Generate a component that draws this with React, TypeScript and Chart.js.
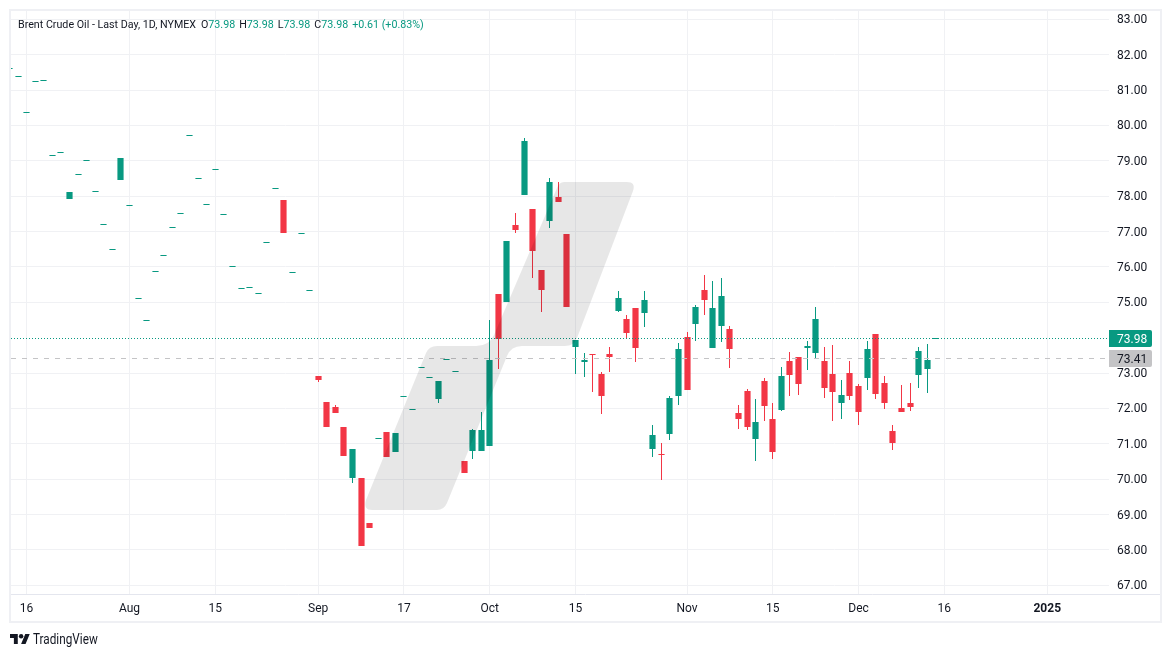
import React, { useEffect, useRef } from "react";
import { Chart, registerables } from "chart.js";

Chart.register(...registerables);

// Daily OHLC, oldest to newest (trading days, mid-July to 13 Dec 2024)
const opens = [
  81.61, 81.39, 80.37, 81.25, 81.28, 79.16, 79.24, 77.92, 78.62, 79.01, 78.14, 77.2, 76.5, 78.46, 77.74, 75.11, 74.49, 75.88, 76.33, 77.12,
  77.52, 79.72, 78.5, 77.77, 78.76, 77.49, 76.02, 75.4, 75.42, 75.25, 76.7, 78.22, 77.89, 75.85, 76.95, 75.34, 72.92, 72.18, 72.04, 71.47,
  70.03, 70.03, 68.76, 71.15, 71.33, 70.76, 72.34, 71.98, 73.16, 72.88, 72.27, 73.39, 73.05, 70.51, 70.8, 70.8, 70.94, 75.24, 75.01, 77.19,
  78.03, 77.64, 75.91, 77.3, 77.98, 76.93, 73.74, 73.31, 73.55, 72.97, 73.54, 74.75, 74.53, 74.84, 74.7, 70.85, 70.71, 71.28, 72.35, 74.02,
  74.39, 75.35, 73.71, 74.33, 74.24, 71.87, 72.49, 71.14, 72.78, 71.7, 71.96, 73.34, 73.46, 73.71, 73.57, 73.34, 72.97, 72.15, 73.0, 72.63,
  72.86, 74.11, 72.72, 71.36, 72.01, 72.15, 72.94, 73.11, 73.98,
];
const highs = [
  81.61, 81.39, 80.37, 81.25, 81.28, 79.16, 79.24, 78.12, 78.62, 79.01, 78.14, 77.2, 76.5, 79.08, 77.74, 75.11, 74.49, 75.88, 76.33, 77.12,
  77.52, 79.72, 78.5, 77.77, 78.76, 77.49, 76.02, 75.4, 75.42, 75.25, 76.7, 78.22, 77.89, 75.85, 76.95, 75.34, 72.92, 72.18, 72.1, 71.47,
  70.85, 70.03, 68.76, 71.15, 71.33, 71.3, 72.34, 71.98, 73.16, 72.88, 72.78, 73.39, 73.05, 70.51, 71.42, 71.9, 74.5, 75.24, 76.73, 77.52,
  79.65, 77.64, 75.91, 78.51, 78.4, 76.93, 73.94, 73.57, 73.55, 73.03, 73.74, 75.32, 74.64, 74.84, 75.32, 71.53, 71.02, 72.35, 73.85, 74.16,
  74.92, 75.77, 75.6, 75.69, 74.33, 72.1, 72.55, 72.27, 72.86, 72.15, 73.17, 73.6, 73.46, 73.91, 74.87, 73.74, 73.8, 72.81, 73.34, 72.69,
  73.91, 74.11, 72.92, 71.53, 72.66, 72.72, 73.74, 73.82, 73.98,
];
const lows = [
  81.61, 81.39, 80.37, 81.25, 81.28, 79.16, 79.24, 77.92, 78.62, 79.01, 78.14, 77.2, 76.5, 78.46, 77.74, 75.11, 74.49, 75.88, 76.33, 77.12,
  77.52, 79.72, 78.5, 77.77, 78.76, 77.49, 76.02, 75.4, 75.42, 75.25, 76.7, 78.22, 76.96, 75.85, 76.95, 75.34, 72.75, 71.47, 71.87, 70.65,
  69.89, 68.11, 68.62, 71.15, 70.63, 70.76, 72.34, 71.98, 73.16, 72.88, 72.15, 73.39, 73.05, 70.17, 70.57, 70.8, 70.94, 73.12, 75.01, 76.96,
  78.03, 75.69, 74.73, 77.1, 77.84, 74.87, 72.97, 72.89, 72.46, 71.84, 73.03, 74.73, 73.99, 73.31, 74.3, 70.63, 69.98, 71.11, 72.1, 72.52,
  73.91, 74.64, 73.71, 73.88, 73.14, 71.42, 71.39, 70.51, 71.65, 70.57, 71.93, 72.35, 72.38, 73.09, 73.43, 72.3, 71.65, 71.7, 72.24, 71.53,
  72.52, 72.27, 71.98, 70.83, 71.9, 71.93, 72.58, 72.44, 73.98,
];
const closes = [
  81.61, 81.39, 80.37, 81.25, 81.28, 79.16, 79.24, 78.12, 78.62, 79.01, 78.14, 77.2, 76.5, 79.08, 77.74, 75.11, 74.49, 75.88, 76.33, 77.12,
  77.52, 79.72, 78.5, 77.77, 78.76, 77.49, 76.02, 75.4, 75.42, 75.25, 76.7, 78.22, 76.96, 75.85, 76.95, 75.34, 72.81, 71.47, 71.87, 70.65,
  70.85, 68.11, 68.62, 71.15, 70.63, 71.3, 72.34, 71.98, 73.16, 72.88, 72.78, 73.39, 73.05, 70.17, 71.39, 71.39, 73.37, 73.96, 76.73, 77.04,
  79.56, 76.45, 75.35, 78.4, 77.84, 74.87, 73.94, 73.37, 73.52, 72.35, 73.46, 75.12, 74.13, 73.71, 75.07, 71.25, 70.7, 72.29, 73.68, 72.52,
  74.87, 75.07, 74.84, 75.18, 73.68, 71.7, 71.47, 71.62, 72.07, 70.77, 72.92, 72.94, 72.69, 73.76, 74.53, 72.58, 72.46, 72.38, 72.35, 71.9,
  73.68, 72.41, 72.15, 71.02, 71.9, 72.04, 73.62, 73.37, 73.98,
];

const priceTicks = [67, 68, 69, 70, 71, 72, 73, 75, 76, 77, 78, 79, 80, 81, 82, 83];
const timeTickLabels = ["16", "Aug", "15", "Sep", "17", "Oct", "15", "Nov", "15", "Dec", "16", "2025"];
const timeTickBars = [2, 14, 24, 36, 46, 56, 66, 79, 89, 99, 109, 121];

const lastPrice = 73.98;
const prevClose = 73.41;
const changeText = "+0.61 (+0.83%)";
const seriesTitle = "Brent Crude Oil - Last Day, 1D, NYMEX";
const ohlcLetters = ["O", "H", "L", "C"];

const UP = "#089981";
const DOWN = "#F23645";
const GRID = "#f0f1f4";
const FONT = "Roboto, sans-serif";

const X_MIN = 0.181;
const X_MAX = 128.2;
const Y_MIN = 66.754;
const Y_MAX = 83.235;

const barColors = closes.map((c, i) => (c >= opens[i] ? UP : DOWN));

// Bars are snapped to whole pixels, as the original renderer does
const snapPlugin = {
  id: "snap",
  beforeDatasetsDraw(chart: any) {
    chart.getSortedVisibleDatasetMetas().forEach((meta: any) => {
      if (meta.type === "bar") {
        meta.data.forEach((el: any) => {
          el.x = Math.floor(el.x) + 0.5;
          const top = Math.round(Math.min(el.y, el.base));
          let bottom = Math.round(Math.max(el.y, el.base));
          if (bottom - top < 1) bottom = top + 1;
          el.y = top;
          el.base = bottom;
          el.height = bottom - top;
        });
      } else if (meta.type === "line") {
        meta.data.forEach((pt: any) => {
          pt.y = Math.floor(pt.y) + 0.5;
        });
      }
    });
  },
};

const framePlugin = {
  id: "frame",
  afterDraw(chart: any) {
    const { ctx, chartArea } = chart;
    ctx.save();
    ctx.strokeStyle = "#eff0f4";
    ctx.lineWidth = 2;
    ctx.strokeRect(10, 10, 1151, 612);
    ctx.strokeStyle = "#e4e6ee";
    ctx.lineWidth = 1;
    ctx.beginPath();
    ctx.moveTo(11, Math.round(chartArea.bottom) + 0.5);
    ctx.lineTo(1160, Math.round(chartArea.bottom) + 0.5);
    ctx.stroke();
    ctx.restore();
  },
};

// Pale TradingView mark laid over the pane
const watermarkPlugin = {
  id: "watermark",
  afterDatasetsDraw(chart: any) {
    const { ctx } = chart;
    ctx.save();
    ctx.fillStyle = "rgba(0,0,0,0.094)";
    ctx.beginPath();
    ctx.moveTo(372, 510);
    ctx.lineTo(437, 510);
    ctx.quadraticCurveTo(444, 510, 447, 503);
    ctx.lineTo(507, 356);
    ctx.quadraticCurveTo(511, 346, 522, 346);
    ctx.lineTo(565, 346);
    ctx.quadraticCurveTo(574, 346, 577, 338);
    ctx.lineTo(633, 191);
    ctx.quadraticCurveTo(636, 182, 627, 182);
    ctx.lineTo(564, 182);
    ctx.quadraticCurveTo(559, 182, 557, 188);
    ctx.lineTo(494, 335);
    ctx.quadraticCurveTo(489, 346, 476, 346);
    ctx.lineTo(437, 346);
    ctx.quadraticCurveTo(429, 346, 426, 353);
    ctx.lineTo(366, 500);
    ctx.quadraticCurveTo(363, 510, 372, 510);
    ctx.closePath();
    ctx.fill();
    ctx.restore();
  },
};

const priceTagPlugin = {
  id: "priceTags",
  afterDraw(chart: any) {
    const { ctx, scales } = chart;
    const y = scales.y;
    const tags = [
      { value: prevClose, bg: "#c4c4c6", fg: "#131722" },
      { value: lastPrice, bg: UP, fg: "#ffffff" },
    ];
    ctx.save();
    tags.forEach((t) => {
      const cy = Math.floor(y.getPixelForValue(t.value)) + 0.5;
      ctx.fillStyle = t.bg;
      ctx.beginPath();
      ctx.roundRect(1109, cy - 8.5, 43, 17, [0, 2, 2, 0]);
      ctx.fill();
      ctx.fillStyle = t.fg;
      ctx.font = `12px ${FONT}`;
      ctx.textAlign = "left";
      ctx.textBaseline = "middle";
      ctx.fillText(t.value.toFixed(2), 1117, cy + 1);
    });
    ctx.restore();
  },
};

const clearScalePadding = (s: any) => {
  s.paddingTop = 0;
  s.paddingBottom = 0;
  s.paddingLeft = 0;
  s.paddingRight = 0;
};

export default function App() {
  const ref = useRef<HTMLCanvasElement>(null);

  useEffect(() => {
    document.body.style.margin = "0";
    document.body.style.background = "#ffffff";
    const bars = closes.map((_, i) => i);
    const chart = new Chart(ref.current as HTMLCanvasElement, {
      type: "bar",
      data: {
        datasets: [
          {
            type: "line",
            label: "Last",
            data: [{ x: X_MIN, y: lastPrice }, { x: X_MAX, y: lastPrice }],
            borderColor: UP,
            borderWidth: 1,
            borderDash: [1, 2],
            pointRadius: 0,
            order: 0,
          },
          {
            type: "line",
            label: "Previous close",
            data: [{ x: X_MIN, y: prevClose }, { x: X_MAX, y: prevClose }],
            borderColor: "#c4c4c6",
            borderWidth: 1,
            borderDash: [5, 6],
            pointRadius: 0,
            order: 0,
          },
          {
            label: "Body",
            data: bars.map((i) => ({ x: i, y: [opens[i], closes[i]] })),
            backgroundColor: barColors,
            grouped: false,
            barPercentage: 0.9,
            maxBarThickness: 7,
            inflateAmount: 0,
            borderWidth: 0,
            order: 1,
          },
          {
            label: "Wick",
            data: bars.map((i) => ({ x: i, y: [lows[i], highs[i]] })),
            backgroundColor: barColors.map((c, i) => (highs[i] === lows[i] ? "rgba(0,0,0,0)" : c)),
            grouped: false,
            barPercentage: 0.9,
            maxBarThickness: 1,
            inflateAmount: 0,
            borderWidth: 0,
            order: 2,
          },
        ],
      } as any,
      options: {
        responsive: false,
        animation: false,
        events: [],
        layout: { autoPadding: false, padding: { left: 11, top: 11, right: 10, bottom: 35 } },
        plugins: { legend: { display: false }, tooltip: { enabled: false } },
        scales: {
          x: {
            type: "linear",
            min: X_MIN,
            max: X_MAX,
            offset: false,
            afterBuildTicks: (s: any) => {
              s.ticks = timeTickBars.map((value) => ({ value }));
            },
            afterFit: (s: any) => {
              s.height = 28;
              clearScalePadding(s);
            },
            grid: { color: GRID, offset: false, drawTicks: false, tickLength: 0 },
            border: { display: false },
            ticks: {
              autoSkip: false,
              maxRotation: 0,
              padding: 8,
              color: "#131722",
              font: (c: any) => ({
                family: FONT,
                size: 12,
                weight: c.tick && c.tick.label === "2025" ? "bold" : "normal",
              }),
              callback: (v: any) => timeTickLabels[timeTickBars.indexOf(v)],
            },
          },
          y: {
            type: "linear",
            position: "right",
            min: Y_MIN,
            max: Y_MAX,
            afterBuildTicks: (s: any) => {
              s.ticks = priceTicks.map((value) => ({ value }));
            },
            afterFit: (s: any) => {
              s.width = 52;
              clearScalePadding(s);
            },
            grid: { color: GRID, drawTicks: false, tickLength: 0 },
            border: { display: false },
            ticks: {
              padding: 8,
              labelOffset: 1,
              color: "#131722",
              font: { family: FONT, size: 12 },
              callback: (v: any) => Number(v).toFixed(2),
            },
          },
        },
      } as any,
      plugins: [snapPlugin, watermarkPlugin, priceTagPlugin, framePlugin],
    });
    return () => chart.destroy();
  }, []);

  const val = lastPrice.toFixed(2);
  return (
    <div style={{ position: "absolute", left: 0, top: 0, width: 1171, height: 657, background: "#fff", overflow: "hidden" }}>
      <canvas ref={ref} width={1171} height={657} style={{ position: "absolute", left: 0, top: 0, display: "block" }} />
      <div
        style={{
          position: "absolute",
          left: 18,
          top: 17,
          font: `10.7px/15px ${FONT}`,
          color: "#131722",
          whiteSpace: "nowrap",
        }}
      >
        <span>{seriesTitle}</span>
        {ohlcLetters.map((l, i) => (
          <span key={l} style={{ marginLeft: i === 0 ? 5 : 4 }}>
            {l}
            <span style={{ color: UP }}>{val}</span>
          </span>
        ))}
        <span style={{ marginLeft: 4, color: UP }}>{changeText}</span>
      </div>
      <svg viewBox="0 0 36 18" style={{ position: "absolute", left: 10, top: 634, width: 20, height: 10 }}>
        <path d="M14 18H7V7H0V0h14v18zM28 18h-8L27.5 0h8L28 18z" fill="#131722" />
        <circle cx="20" cy="4" r="4" fill="#131722" />
      </svg>
      <div
        style={{
          position: "absolute",
          left: 33,
          top: 630,
          font: `14px/18px ${FONT}`,
          color: "#131722",
          whiteSpace: "nowrap",
          transform: "scaleX(0.84)",
          transformOrigin: "left center",
        }}
      >
        TradingView
      </div>
    </div>
  );
}
